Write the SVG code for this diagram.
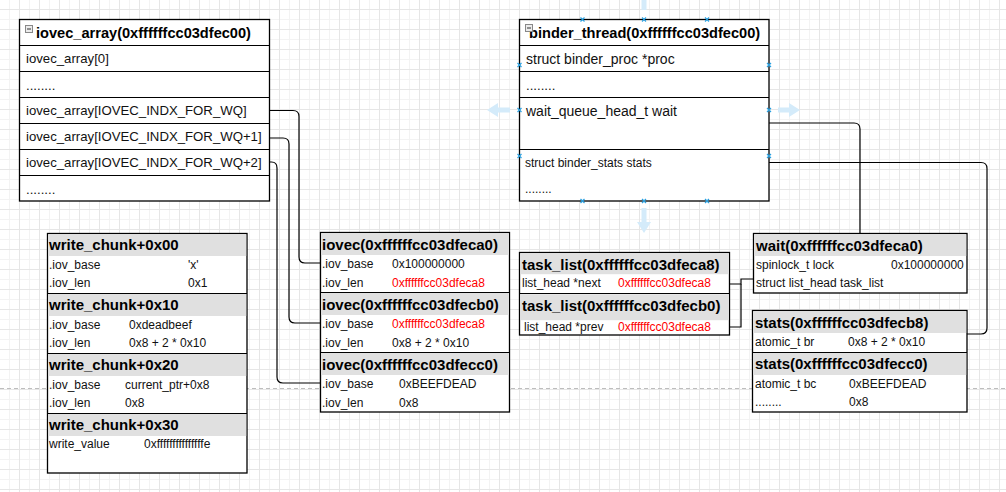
<svg xmlns="http://www.w3.org/2000/svg" width="1006" height="492" viewBox="0 0 1006 492">
<defs>
<pattern id="grid" x="19" y="9" width="20" height="20" patternUnits="userSpaceOnUse">
<path d="M10.5,0 V20 M0,10.5 H20" stroke="#f3f3f3" stroke-width="1" fill="none"/>
<path d="M0.5,0 V20 M0,0.5 H20" stroke="#e6e6e6" stroke-width="1" fill="none"/>
</pattern>
<g id="xm"><path d="M-2,-2 L2,2 M-2,2 L2,-2" stroke="#2aa0e0" stroke-width="1.2"/></g>
</defs>
<style>
.box{fill:#fff;stroke:#000;stroke-width:1.3}
.sep{stroke:#000;stroke-width:1.2;fill:none}
.hdr{fill:#e0e0e0}
.t{font-family:"Liberation Sans",Arial,sans-serif;font-size:12px;fill:#111}
.t13{font-family:"Liberation Sans",Arial,sans-serif;font-size:13.2px;fill:#111}
.t14{font-family:"Liberation Sans",Arial,sans-serif;font-size:14px;fill:#111}
.tb{font-family:"Liberation Sans",Arial,sans-serif;font-weight:bold;font-size:15px;fill:#000}
.tb2{font-family:"Liberation Sans",Arial,sans-serif;font-weight:bold;font-size:14.6px;fill:#000}
.red{fill:#ff0000}
.conn{fill:none;stroke:#000;stroke-width:1.2}
.ghost{fill:#d4ebfa}
.mi{fill:#ececec;stroke:#888;stroke-width:1}
</style>
<rect width="1006" height="492" fill="#fff"/>
<rect width="1006" height="492" fill="url(#grid)"/>
<line x1="0" y1="388.5" x2="1006" y2="388.5" stroke="#bdbdbd" stroke-width="1" stroke-dasharray="4,3"/>

<g id="ghost-arrows">
<path class="ghost" d="M641.5,10 V-4 H637 L644,-15 L651,-4 H646.5 V10 Z"/>
<path class="ghost" d="M641.5,208 V222 H637 L644,233 L651,222 H646.5 V208 Z"/>
<path class="ghost" d="M510,107.5 H498 V103 L487,110 L498,117 V112.5 H510 Z"/>
<path class="ghost" d="M778,107.5 H789 V103 L800,110 L789,117 V112.5 H778 Z"/>
</g>

<g id="connectors">
<path class="conn" d="M270,110.5 H293 Q299,110.5 299,116.5 V257 Q299,263 305,263 H320"/>
<path class="conn" d="M270,138 H283 Q289,138 289,144 V317 Q289,323 295,323 H320"/>
<path class="conn" d="M270,162 H271.5 Q277,162 277,168 V377 Q277,383 283,383 H320"/>
<path class="conn" d="M769,123 H854 Q860,123 860,129 V233"/>
<path class="conn" d="M769,162.5 H981 Q987,162.5 987,168.5 V328 Q987,334 981,334 H967"/>
<path class="conn" d="M729,284 H741 V279 H753"/>
<path class="conn" d="M729,327 H741 V284"/>
</g>

<g id="iovec_array">
<rect class="box" x="19.5" y="19.5" width="250" height="181.5"/>
<path class="sep" d="M19.5,45.5 H269.5 M19.5,71.5 H269.5 M19.5,97.5 H269.5 M19.5,123.5 H269.5 M19.5,149.5 H269.5 M19.5,175.5 H269.5"/>
<rect class="mi" x="25.5" y="25.5" width="7" height="7"/>
<line x1="27" y1="29" x2="31" y2="29" stroke="#333" stroke-width="1"/>
<text class="tb2" x="36" y="38">iovec_array(0xffffffcc03dfec00)</text>
<text class="t13" x="26" y="63">iovec_array[0]</text>
<text class="t13" x="26" y="90">........</text>
<text class="t13" x="26" y="115">iovec_array[IOVEC_INDX_FOR_WQ]</text>
<text class="t13" x="26" y="141">iovec_array[IOVEC_INDX_FOR_WQ+1]</text>
<text class="t13" x="26" y="167">iovec_array[IOVEC_INDX_FOR_WQ+2]</text>
<text class="t13" x="26" y="194">........</text>
</g>

<g id="binder_thread">
<rect class="box" x="519.5" y="19.5" width="249.5" height="181.5"/>
<path class="sep" d="M519.5,45.5 H769 M519.5,71.5 H769 M519.5,97.5 H769 M519.5,149.5 H769"/>
<text class="tb2" x="529" y="38">binder_thread(0xffffffcc03dfec00)</text>
<rect class="mi" x="525.5" y="24.5" width="7" height="7"/>
<line x1="527" y1="28" x2="531" y2="28" stroke="#333" stroke-width="1"/>
<text class="t14" x="526" y="64">struct binder_proc *proc</text>
<text class="t13" x="526" y="90">........</text>
<text class="t14" x="526" y="116">wait_queue_head_t wait</text>
<text class="t" x="525" y="167">struct binder_stats stats</text>
<text class="t" x="525" y="193">........</text>
<use href="#xm" x="582.5" y="19.5"/><use href="#xm" x="644" y="19.5"/><use href="#xm" x="707" y="19.5"/>
<use href="#xm" x="582.5" y="201"/><use href="#xm" x="644" y="201"/><use href="#xm" x="707" y="201"/>
<use href="#xm" x="519.5" y="65"/><use href="#xm" x="519.5" y="110"/><use href="#xm" x="519.5" y="156"/>
<use href="#xm" x="769" y="65"/><use href="#xm" x="769" y="110"/><use href="#xm" x="769" y="156"/>
</g>

<g id="write_chunk">
<rect class="box" x="47.5" y="233.5" width="199.5" height="239.5"/>
<rect class="hdr" x="48.2" y="234.2" width="198" height="21.8"/>
<rect class="hdr" x="48.2" y="294" width="198" height="22"/>
<rect class="hdr" x="48.2" y="354" width="198" height="22"/>
<rect class="hdr" x="48.2" y="414" width="198" height="22"/>
<path class="sep" d="M47.5,293.5 H247 M47.5,353.5 H247 M47.5,413.5 H247"/>
<text class="tb" x="49" y="250">write_chunk+0x00</text>
<text class="t" x="49" y="269">.iov_base</text><text class="t" x="188" y="269">'x'</text>
<text class="t" x="49" y="287">.iov_len</text><text class="t" x="188" y="287">0x1</text>
<text class="tb" x="49" y="310">write_chunk+0x10</text>
<text class="t" x="49" y="329">.iov_base</text><text class="t" x="129" y="329">0xdeadbeef</text>
<text class="t" x="49" y="347">.iov_len</text><text class="t" x="129" y="347">0x8 + 2 * 0x10</text>
<text class="tb" x="49" y="370">write_chunk+0x20</text>
<text class="t" x="49" y="389">.iov_base</text><text class="t" x="125" y="389">current_ptr+0x8</text>
<text class="t" x="49" y="407">.iov_len</text><text class="t" x="125" y="407">0x8</text>
<text class="tb" x="49" y="430">write_chunk+0x30</text>
<text class="t" x="49" y="448">write_value</text><text class="t" x="144" y="448">0xfffffffffffffffe</text>
</g>

<g id="iovec">
<rect class="box" x="320.5" y="232.5" width="189" height="179.5"/>
<rect class="hdr" x="321.2" y="233.2" width="187.6" height="21.8"/>
<rect class="hdr" x="321.2" y="293" width="187.6" height="22"/>
<rect class="hdr" x="321.2" y="353" width="187.6" height="22"/>
<path class="sep" d="M320.5,292.5 H509.5 M320.5,352.5 H509.5"/>
<text class="tb" x="322" y="250">iovec(0xffffffcc03dfeca0)</text>
<text class="t" x="322" y="268">.iov_base</text><text class="t" x="392" y="268">0x100000000</text>
<text class="t" x="322" y="287">.iov_len</text><text class="t red" x="392" y="287">0xffffffcc03dfeca8</text>
<text class="tb" x="322" y="310">iovec(0xffffffcc03dfecb0)</text>
<text class="t" x="322" y="328">.iov_base</text><text class="t red" x="392" y="328">0xffffffcc03dfeca8</text>
<text class="t" x="322" y="347">.iov_len</text><text class="t" x="392" y="347">0x8 + 2 * 0x10</text>
<text class="tb" x="322" y="370">iovec(0xffffffcc03dfecc0)</text>
<text class="t" x="322" y="388">.iov_base</text><text class="t" x="399" y="388">0xBEEFDEAD</text>
<text class="t" x="322" y="407">.iov_len</text><text class="t" x="399" y="407">0x8</text>
</g>

<g id="task_list">
<rect class="box" x="519.5" y="252.5" width="210" height="82.5"/>
<rect class="hdr" x="520.2" y="253.2" width="208.6" height="21"/>
<rect class="hdr" x="520.2" y="294.2" width="208.6" height="26"/>
<path class="sep" d="M519.5,293.5 H729.5"/>
<text class="tb" x="522" y="270">task_list(0xffffffcc03dfeca8)</text>
<text class="t" x="522" y="287">list_head *next</text><text class="t red" x="618" y="287">0xffffffcc03dfeca8</text>
<text class="tb" x="522" y="311">task_list(0xffffffcc03dfecb0)</text>
<text class="t" x="524" y="331">list_head *prev</text><text class="t red" x="618" y="331">0xffffffcc03dfeca8</text>
</g>

<g id="wait">
<rect class="box" x="753.5" y="233.5" width="213.5" height="59.5"/>
<rect class="hdr" x="754.2" y="234.2" width="212" height="21.8"/>
<text class="tb" x="756" y="251">wait(0xffffffcc03dfeca0)</text>
<text class="t" x="756" y="269">spinlock_t lock</text><text class="t" x="891" y="269">0x100000000</text>
<text class="t" x="756" y="287">struct list_head task_list</text>
</g>

<g id="stats">
<rect class="box" x="752.5" y="310.5" width="214.5" height="101.5"/>
<rect class="hdr" x="753.2" y="311.2" width="213" height="21.8"/>
<rect class="hdr" x="753.2" y="353" width="213" height="22"/>
<path class="sep" d="M752.5,352.5 H967"/>
<text class="tb" x="755" y="328">stats(0xffffffcc03dfecb8)</text>
<text class="t" x="755" y="346">atomic_t br</text><text class="t" x="848" y="346">0x8 + 2 * 0x10</text>
<text class="tb" x="755" y="369">stats(0xffffffcc03dfecc0)</text>
<text class="t" x="755" y="388">atomic_t bc</text><text class="t" x="849" y="388">0xBEEFDEAD</text>
<text class="t" x="755" y="406">........</text><text class="t" x="849" y="406">0x8</text>
</g>
</svg>
